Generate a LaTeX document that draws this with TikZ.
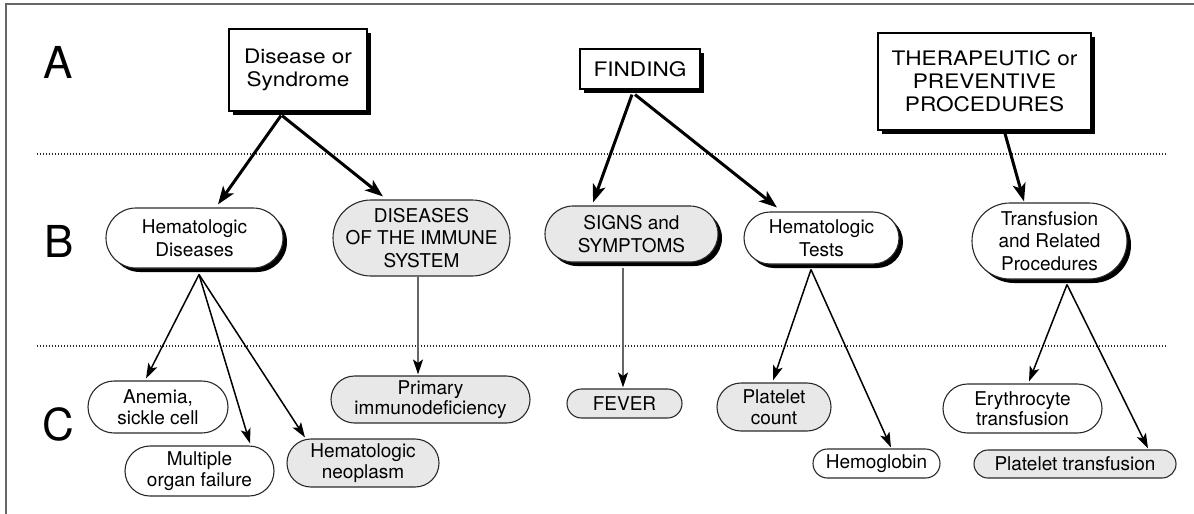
\documentclass[tikz,border=0pt]{standalone}
\usepackage{fontspec}
\setmainfont{TeX Gyre Heros}
\newfontfamily\widefont{TeX Gyre Heros}[FakeStretch=1.13]
\usetikzlibrary{arrows.meta,shadows,calc}
\definecolor{pillgray}{HTML}{E8E8E8}
\definecolor{edgegray}{HTML}{2A2A2A}
\tikzset{
  shad/.style={drop shadow={shadow xshift=4pt,shadow yshift=-4pt,fill=black,opacity=1}},
  topbox/.style 2 args={draw=black, line width=1.2pt, fill=white, rectangle,
    minimum width=#1pt, minimum height=#2pt, inner sep=0pt, align=center,
    font=\widefont\fontsize{20}{23}\selectfont, shad},
  pill/.style 2 args={draw=edgegray, line width=1.1pt, fill=white, rectangle,
    minimum width=#1pt, minimum height=#2pt, rounded corners=#2*0.5pt,
    inner sep=0pt, align=center},
  bfont/.style={font=\fontsize{19}{22.5}\selectfont},
  cfont/.style={font=\fontsize{19}{20.5}\selectfont},
  graypill/.style={fill=pillgray},
  heavyarrow/.style={line width=3pt, -{Stealth[length=18pt,width=13pt,inset=4.5pt]}},
  lightarrow/.style={line width=1.5pt, -{Stealth[length=15pt,width=10pt,inset=3.5pt]}},
  grayarrow/.style={line width=1.2pt, draw=black!60, -{Stealth[length=15pt,width=10pt,inset=3.5pt,color=black]}},
  levelmark/.style={font=\fontsize{44}{44}\selectfont, inner sep=0pt},
  sepline/.style={line width=1.3pt, dash pattern=on 1.3pt off 1.7pt, draw=black!85},
}
\begin{document}
\begin{tikzpicture}[x=1pt,y=-1pt]
\useasboundingbox (0,0) rectangle (1194,514);
% frame
\draw[line width=1.5pt, draw=black!60] (6,514) -- (6,4) -- (1194,4);
% separators
\draw[sepline] (37,154) -- (1166,154);
\draw[sepline] (37,346) -- (1166,346);
% level letters
\node[levelmark] (la) at (58,62) {A};
\node[levelmark] (lb) at (59,241) {B};
\node[levelmark] (lc) at (58,424) {C};
% level A
\node[topbox={138}{82}] (ds) at (298,70) {Disease or\\Syndrome};
\node[topbox={120}{40}] (fi) at (640,69) {FINDING};
\node[topbox={213}{97}] (th) at (984.5,81.5) {THERAPEUTIC or\\PREVENTIVE\\PROCEDURES};
% level B
\node[pill={177}{60}, bfont, shad] (hd) at (194.5,238) {Hematologic\\Diseases};
\node[pill={177}{76}, bfont, graypill] (di) at (421.5,238) {DISEASES\\OF THE IMMUNE\\SYSTEM};
\node[pill={173}{56}, bfont, graypill, shad] (ss) at (631.5,234) {SIGNS and\\SYMPTOMS};
\node[pill={155}{52}, bfont, shad] (ht) at (821.5,238) {Hematologic\\Tests};
\node[pill={155}{76}, bfont, shad] (tr) at (1049.5,241) {Transfusion\\and Related\\Procedures};
% level C
\node[pill={140}{52}, cfont] (an) at (158,407) {Anemia,\\sickle cell};
\node[pill={149}{50}, cfont] (mo) at (199.5,471) {Multiple\\organ failure};
\node[pill={152}{48}, cfont, graypill] (hn) at (363,463) {Hematologic\\neoplasm};
\node[pill={199}{47}, cfont, graypill] (pi) at (430.5,399.5) {Primary\\immunodeficiency};
\node[pill={115}{29}, cfont, graypill] (fe) at (624.5,403.5) {FEVER};
\node[pill={114}{48}, cfont, graypill] (pc) at (774,407) {Platelet\\count};
\node[pill={127}{29}, cfont] (hb) at (876.5,463.5) {Hemoglobin};
\node[pill={159}{49}, cfont] (et) at (1022.5,408.5) {Erythrocyte\\transfusion};
\node[pill={202}{28}, cfont, graypill] (pt) at (1075,464) {Platelet transfusion};
% A -> B
\draw[heavyarrow] ($(ds.south)+(-17,4)$) -- ($(hd.north)+(23.5,-3)$);
\draw[heavyarrow] ($(ds.south)+(-16,4)$) -- ($(di.north)+(-38.5,-3)$);
\draw[heavyarrow] ($(fi.south)+(-8,5)$) -- ($(ss.north)+(-38.5,-3)$);
\draw[heavyarrow] ($(fi.south)+(-5,5)$) -- ($(ht.north)+(-44.5,-4)$);
\draw[heavyarrow] ($(th.south)+(20.5,3)$) -- ($(tr.north)+(-25.5,-1)$);
% B -> C
\draw[lightarrow] ($(hd.south)+(4.5,6)$) -- ($(an.north)+(-12,-2)$);
\draw[lightarrow] ($(hd.south)+(4.5,6)$) -- ($(mo.north)+(50.5,-2)$);
\draw[lightarrow] ($(hd.south)+(4.5,6)$) -- ($(hn.north)+(-58,-1)$);
\draw[grayarrow] ($(di.south)+(-3.5,0)$) -- ($(pi.north)+(-12.5,-1)$);
\draw[grayarrow] ($(ss.south)+(-8.5,5)$) -- ($(fe.north)+(-1.5,-1)$);
\draw[lightarrow] ($(ht.south)+(-10.5,5)$) -- ($(pc.north)+(-1,-2)$);
\draw[lightarrow] ($(ht.south)+(-10.5,5)$) -- ($(hb.north)+(14.5,-1)$);
\draw[lightarrow] ($(tr.south)+(17.5,5)$) -- ($(et.north)+(6.5,-2)$);
\draw[lightarrow] ($(tr.south)+(17.5,5)$) -- ($(pt.north)+(73,-1)$);
\end{tikzpicture}
\end{document}
